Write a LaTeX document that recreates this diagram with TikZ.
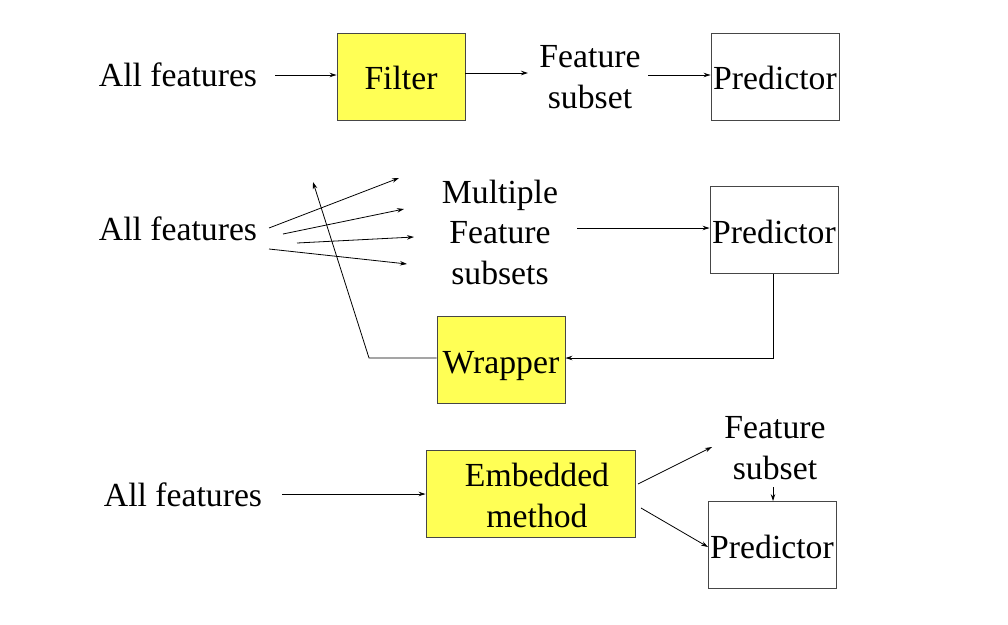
\documentclass[tikz,border=0pt]{standalone}
\usepackage{fontspec}
\setmainfont{Liberation Serif}
\usetikzlibrary{arrows.meta}
\definecolor{boxyellow}{RGB}{255,255,85}
\definecolor{edge}{RGB}{70,70,70}
\begin{document}
\begin{tikzpicture}[x=1pt,y=-1pt,
  lbl/.style={inner sep=0pt, align=center, font=\fontsize{33.7}{40.5}\selectfont},
  box/.style={draw=edge, line width=0.9pt, minimum width=128pt, minimum height=87pt,
              inner sep=0pt, align=center, text height=26pt, text depth=0pt,
              font=\fontsize{33.7}{40.5}\selectfont},
  ybox/.style={box, fill=boxyellow},
  arr/.style={-{Stealth[length=7pt,width=4.5pt]}, line width=0.8pt, draw=black}]
\useasboundingbox (0,0) rectangle (1008,624);

% --- filter ---
\node[lbl] (af1) at (178,75) {All features};
\node[ybox] (filter) at (401,76.5) {Filter};
\node[lbl] (fs1) at (590,77) {Feature\\subset};
\node[box] (pred1) at (775,76.5) {Predictor};
\coordinate (a1) at (275,75);
\coordinate (b1) at (528,73);
\coordinate (c1) at (648,75);
\draw[arr] (a1) -- (filter.west |- a1);
\draw[arr] (filter.east |- b1) -- (b1);
\draw[arr] (c1) -- (pred1.west |- c1);

% --- wrapper ---
\node[lbl] (af2) at (178,229) {All features};
\node[lbl] (mfs) at (500,232) {Multiple\\Feature\\subsets};
\node[box] (pred2) at (774,230) {Predictor};
\node[ybox] (wrap) at (501,360) {Wrapper};
\coordinate (s1) at (269,228); \coordinate (e1) at (399,178);
\coordinate (s2) at (283,234); \coordinate (e2) at (404,209);
\coordinate (s3) at (297,243); \coordinate (e3) at (414,237);
\coordinate (s4) at (269,249); \coordinate (e4) at (407,264);
\draw[arr] (s1) -- (e1);
\draw[arr] (s2) -- (e2);
\draw[arr] (s3) -- (e3);
\draw[arr] (s4) -- (e4);
\coordinate (m1) at (577,228);
\draw[arr] (m1) -- (pred2.west |- m1);
\coordinate (k1) at (773,358);
\draw[arr] (pred2.south -| k1) -- (k1) -- (wrap.east |- k1);
\coordinate (k2) at (369,358);
\coordinate (k3) at (313,182);
\draw[arr] (wrap.west |- k2) -- (k2) -- (k3);

% --- embedded ---
\node[lbl] (af3) at (183,495) {All features};
\node[ybox, minimum width=209pt, text height=66pt, text depth=0pt] (emb) at (530.5,494)
  {\hspace*{13pt}Embedded\\\hspace*{13pt}method};
\node[lbl] (fs3) at (775,448) {Feature\\subset};
\node[box] (pred3) at (772,545) {Predictor};
\coordinate (a3) at (282,494);
\draw[arr] (a3) -- (emb.west |- a3);
\coordinate (g1) at (638,484); \coordinate (h1) at (712,447);
\coordinate (g2) at (641,508); \coordinate (h2) at (708,547);
\draw[arr] (g1) -- (h1);
\draw[arr] (g2) -- (h2);
\coordinate (v1) at (773,487);
\draw[arr] (v1) -- (pred3.north -| v1);
\end{tikzpicture}
\end{document}
